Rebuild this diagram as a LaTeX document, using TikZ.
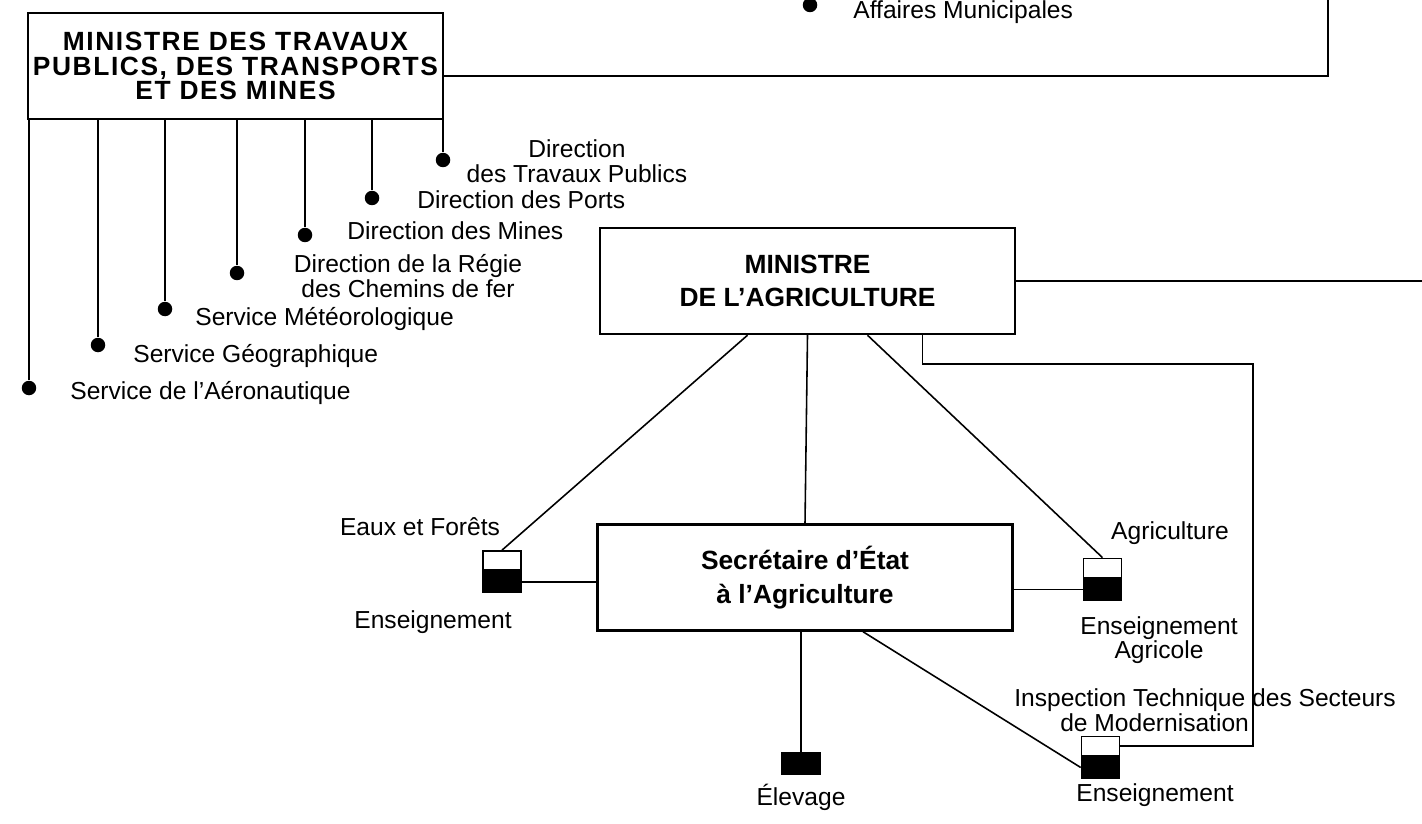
\documentclass[tikz,border=0pt]{standalone}
\usepackage{fontspec}
\setmainfont{Liberation Sans}
\newfontfamily\boxfontTP[LetterSpace=6]{Liberation Sans}
\usetikzlibrary{positioning,calc}

\tikzstyle{minister} = [rectangle, minimum width=8.3cm, minimum height=2.12cm, text centered, align=center, draw=black, line width=1.4pt, inner sep=0, font=\fontsize{15}{19}\selectfont\bfseries]
\tikzstyle{line} = [line width=0.9pt]
\tikzstyle{dot} = [circle, fill=black, minimum size=0.29cm, inner sep=0]
\tikzstyle{lbl} = [align=center, inner sep=0, font=\fontsize{14}{14}\selectfont]
\tikzstyle{unitb} = [rectangle, draw=black, fill=black, line width=0.9pt, minimum width=0.76cm, minimum height=0.42cm, inner sep=0]
\tikzstyle{unitw} = [rectangle, draw=black, fill=white, line width=0.9pt, minimum width=0.76cm, minimum height=0.38cm, inner sep=0]

\begin{document}
\begin{tikzpicture}[x=0.02cm, y=-0.02cm]
\useasboundingbox (0,0) rectangle (1422,824);

% travaux publics
\node (min_TP) [minister, font=\boxfontTP\fontsize{15}{13.7}\selectfont\bfseries] at (235.5,66)
{MINISTRE DES TRAVAUX\\PUBLICS, DES TRANSPORTS\\ET DES MINES};
\coordinate (tp_r) at (1328,76);
\coordinate (tp_top) at (1328,0);
\draw [line] (min_TP.east |- tp_r) -- (tp_r) -- (tp_top);

\node (aff_dot) [dot] at (810,5) {};
\node (aff) [lbl, anchor=base west] at (853,19) {Affaires Municipales};

\node (d_aero) [dot] at (29,388) {};
\node (d_geo) [dot] at (98,345) {};
\node (d_meteo) [dot] at (165,309) {};
\node (d_rail) [dot] at (237,273) {};
\node (d_mines) [dot] at (305,235) {};
\node (d_ports) [dot] at (372,198) {};
\node (d_trav) [dot] at (443,160) {};
\draw [line] (d_aero |- min_TP.south) -- (d_aero);
\draw [line] (d_geo |- min_TP.south) -- (d_geo);
\draw [line] (d_meteo |- min_TP.south) -- (d_meteo);
\draw [line] (d_rail |- min_TP.south) -- (d_rail);
\draw [line] (d_mines |- min_TP.south) -- (d_mines);
\draw [line] (d_ports |- min_TP.south) -- (d_ports);
\draw [line] (d_trav |- min_TP.south) -- (d_trav);

\node (l_aero) [lbl, anchor=west] at (70,393) {Service de l'Aéronautique};
\node (l_geo) [lbl, anchor=west] at (133,356) {Service Géographique};
\node (l_meteo) [lbl, anchor=west] at (195,319) {Service Météorologique};
\node (l_rail) [lbl] at (408,276) {Direction de la Régie\\des Chemins de fer};
\node (l_mines) [lbl, anchor=west] at (347,231) {Direction des Mines};
\node (l_ports) [lbl, anchor=west] at (417,200) {Direction des Ports};
\node (l_trav) [lbl] at (577,161) {Direction\\des Travaux Publics};

% agriculture
\node (min_AGR) [minister] at (807.5,281) {MINISTRE\\DE L'AGRICULTURE};
\coordinate (agr_r) at (1422,281);
\draw [line] (min_AGR.east) -- (agr_r);

\node (sec_AGR) [minister] at (805,577.5) {Secrétaire d'État\\à l'Agriculture};

\node (ef_b) [unitb] at (502,582) {};
\node (ef_w) [unitw, above=0cm of ef_b] {};
\node (ag_b) [unitb] at (1102.5,589.5) {};
\node (ag_w) [unitw, above=0cm of ag_b] {};
\node (it_b) [unitb] at (1100.5,767.5) {};
\node (it_w) [unitw, above=0cm of it_b] {};
\node (el_b) [unitb] at (801,763.5) {};

\node (l_ef) [lbl] at (420,527) {Eaux et Forêts};
\node (l_ens1) [lbl] at (433,622) {Enseignement};
\node (l_agr) [lbl] at (1170,533) {Agriculture};
\node (l_ens2) [lbl] at (1159,640) {Enseignement\\Agricole};
\node (l_insp) [lbl, align=left] at (1205,710) {Inspection Technique des Secteurs\\\hspace{0.92cm}de Modernisation};
\node (l_ens3) [lbl] at (1155,795) {Enseignement};
\node (l_elv) [lbl] at (801,797) {Élevage};

\coordinate (it_k) at (1253,364);
\draw [line] ($(min_AGR.south)+(-60,0)$) -- (ef_w.north);
\draw [line] (min_AGR.south) -- (sec_AGR.north);
\draw [line] ($(min_AGR.south)+(60,0)$) -- (ag_w.north);
\draw [line] ($(min_AGR.south)+(115,0)$) |- (it_k) |- (it_w.east);
\draw [line] (ef_b.east) -- (ef_b.east -| sec_AGR.west);
\draw [line] (sec_AGR.east |- ag_b.west) -- (ag_b.west);
\draw [line] (el_b.north |- sec_AGR.south) -- (el_b.north);
\draw [line] ($(sec_AGR.south)+(58,0)$) -- (it_b.west);
\end{tikzpicture}
\end{document}
